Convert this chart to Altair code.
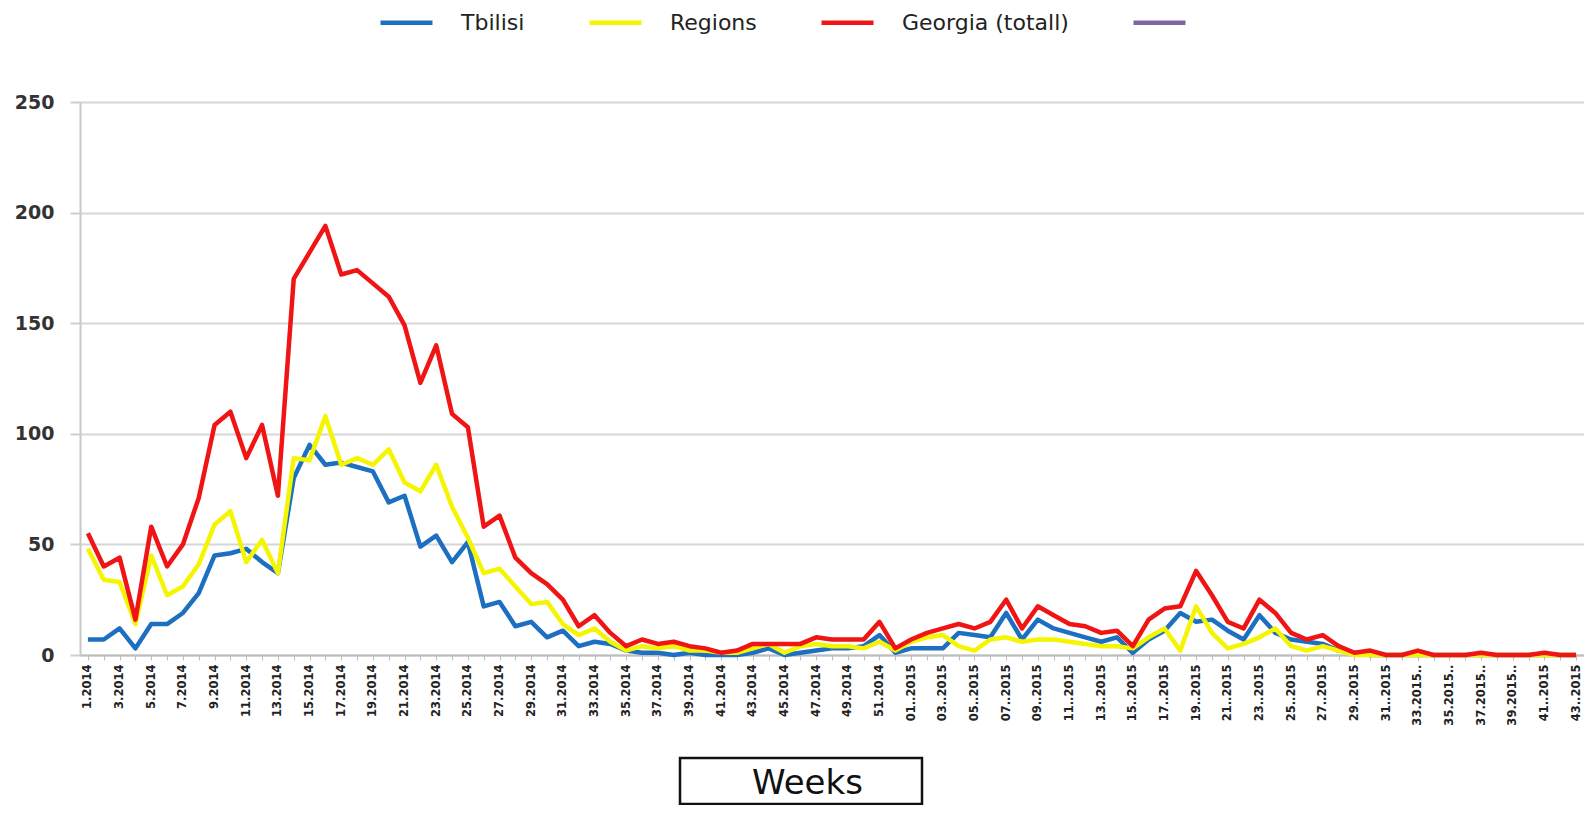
import json
import altair as alt
import pandas as pd

# ---- categories (weeks) ----
weeks_2014 = [f"{w}.2014" for w in range(1, 53)]
weeks_2015 = [
    "01..2015", "02..2015", "03..2015", "04..2015", "05..2015", "06..2015",
    "07..2015", "08..2015", "09..2015", "10..2015", "11..2015", "12..2015",
    "13..2015", "14..2015", "15..2015", "16..2015", "17..2015", "18..2015",
    "19..2015", "20..2015", "21..2015", "22..2015", "23..2015", "24..2015",
    "25..2015", "26..2015", "27..2015", "28..2015", "29..2015", "30..2015",
    "31..2015", "32..2015", "33.2015..", "34.2015..", "35.2015..", "36.2015..",
    "37.2015..", "38.2015..", "39.2015..", "40..2015", "41..2015", "42..2015",
    "43..2015",
]
weeks = weeks_2014 + weeks_2015

# ---- series values ----
tbilisi = [
    7, 7, 12, 3, 14, 14, 19, 28, 45, 46,
    48, 42, 37, 80, 95, 86, 87, 85, 83, 69,
    72, 49, 54, 42, 51, 22, 24, 13, 15, 8,
    11, 4, 6, 5, 2, 1, 1, 0, 1, 0,
    0, 0, 1, 3, 0, 1, 2, 3, 3, 4,
    9, 1, 3, 3, 3, 10, 9, 8, 19, 7,
    16, 12, 10, 8, 6, 8, 1, 7, 11, 19,
    15, 16, 11, 7, 18, 10, 7, 6, 5, 2,
    1, 0, 0, 0, 0, 0, 0, 0, 0, 0,
    0, 0, 0, 0, 0,
]
regions = [
    48, 34, 33, 14, 45, 27, 31, 41, 59, 65,
    42, 52, 37, 89, 88, 108, 86, 89, 86, 93,
    78, 74, 86, 67, 53, 37, 39, 31, 23, 24,
    14, 9, 12, 6, 2, 4, 3, 4, 2, 2,
    1, 1, 3, 5, 1, 4, 5, 4, 4, 3,
    6, 2, 6, 8, 9, 4, 2, 7, 8, 6,
    7, 7, 6, 5, 4, 4, 3, 8, 12, 2,
    22, 10, 3, 5, 8, 12, 4, 2, 4, 2,
    0, 0, 0, 0, 0, 0, 0, 0, 0, 0,
    0, 0, 0, 0, 0,
]
georgia = [
    55, 40, 44, 16, 58, 40, 50, 71, 104, 110,
    89, 104, 72, 170, 182, 194, 172, 174, 168, 162,
    149, 123, 140, 109, 103, 58, 63, 44, 37, 32,
    25, 13, 18, 10, 4, 7, 5, 6, 4, 3,
    1, 2, 5, 5, 5, 5, 8, 7, 7, 7,
    15, 3, 7, 10, 12, 14, 12, 15, 25, 12,
    22, 18, 14, 13, 10, 11, 4, 16, 21, 22,
    38, 27, 15, 12, 25, 19, 10, 7, 9, 4,
    1, 2, 0, 0, 2, 0, 0, 0, 1, 0,
    0, 0, 1, 0, 0,
]

series_names = ["Tbilisi", "Regions", "Georgia (totall)", " "]
series_colors = ["#1c6fc1", "#f5f500", "#f01414", "#8064a2"]
y_ticks = [0, 50, 100, 150, 200, 250]

rows = []
for name, vals in [("Tbilisi", tbilisi), ("Regions", regions), ("Georgia (totall)", georgia)]:
    for i, (w, v) in enumerate(zip(weeks, vals)):
        rows.append({"series": name, "idx": i, "week": w, "cases": v})
df = pd.DataFrame(rows)

label_expr = f"datum.value % 2 == 0 ? {json.dumps(weeks)}[datum.value] : ''"

lines = alt.Chart(df).mark_line(strokeWidth=4.5, strokeJoin="round").encode(
    x=alt.X(
        "idx:Q",
        scale=alt.Scale(domain=[-0.5, len(weeks) - 0.5], nice=False, zero=False),
        axis=alt.Axis(
            values=list(range(len(weeks))),
            labelExpr=label_expr,
            labelAngle=270,
            labelFont="DejaVu Sans",
            labelFontWeight="bold",
            labelFontSize=11.5,
            labelColor="#222222",
            labelPadding=4,
            labelOverlap=False,
            labelFlush=False,
            tickSize=5,
            tickColor="#bdbdbd",
            tickWidth=1,
            domainColor="#bdbdbd",
            domainWidth=2,
            grid=False,
            title="Weeks",
            titleFont="DejaVu Sans",
            titleFontSize=34,
            titleFontWeight="normal",
            titleColor="#111111",
            titleX=727,
            titleY=128,
            titleAlign="center",
            titleBaseline="middle",
            titleAnchor="start",
        ),
    ),
    y=alt.Y(
        "cases:Q",
        scale=alt.Scale(domain=[0, 250], nice=False),
        axis=alt.Axis(
            values=y_ticks,
            title=None,
            labelFont="DejaVu Sans",
            labelFontWeight="bold",
            labelFontSize=19,
            labelColor="#333333",
            labelPadding=16,
            tickSize=10,
            tickColor="#cfcfcf",
            tickWidth=2,
            domainColor="#c8c8c8",
            domainWidth=2,
            gridColor="#d6d6d6",
            gridWidth=2,
        ),
    ),
    color=alt.Color(
        "series:N",
        scale=alt.Scale(domain=series_names, range=series_colors),
        sort=series_names,
        legend=alt.Legend(
            title=None,
            orient="none",
            legendX=298,
            legendY=-108,
            direction="horizontal",
            symbolType="stroke",
            symbolStrokeWidth=4.5,
            symbolSize=2700,
            labelFont="DejaVu Sans",
            labelFontSize=22,
            labelColor="#222222",
            labelLimit=400,
            labelOffset=26,
            columnPadding=55,
            padding=0,
        ),
    ),
    detail="series:N",
)

box_df = pd.DataFrame([{"label": "Weeks"}])
box = alt.Chart(box_df).mark_rect(
    fillOpacity=0, stroke="#111111", strokeWidth=2.5
).encode(
    x=alt.value(600), x2=alt.value(842), y=alt.value(656), y2=alt.value(702)
)

chart = alt.layer(lines, box).properties(
    width=1504,
    height=553,
    autosize=alt.AutoSizeParams(type="none"),
    padding={"left": 72, "top": 94, "right": 0, "bottom": 150},
    background="white",
).configure_view(strokeWidth=0)

chart.save("out.html", embed_options={"renderer": "svg", "actions": False})
